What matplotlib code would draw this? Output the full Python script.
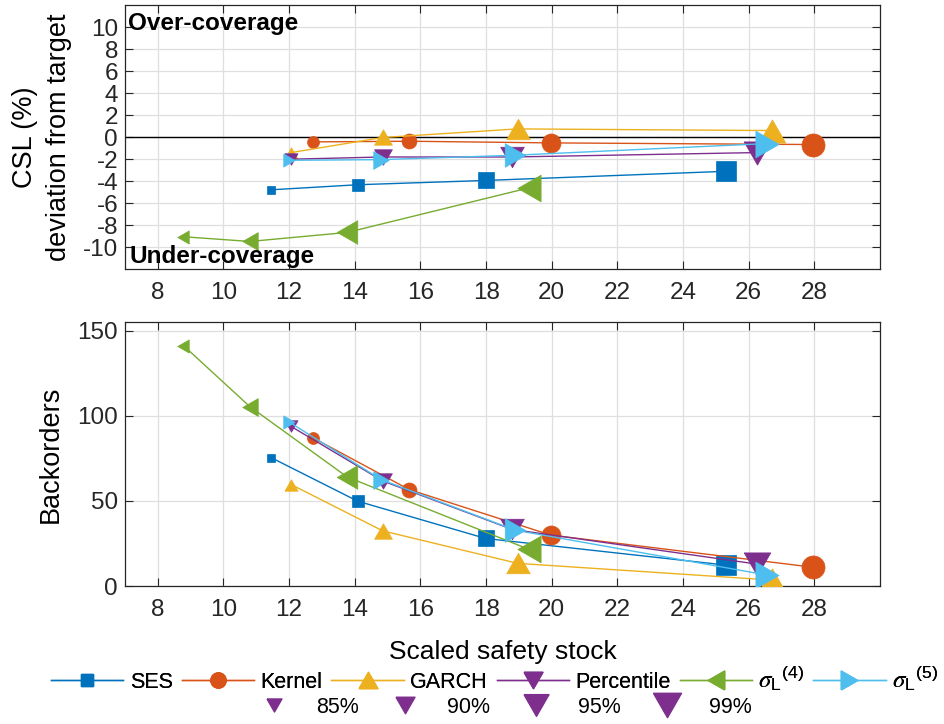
import matplotlib
matplotlib.use('Agg')
import matplotlib.pyplot as plt
from matplotlib.lines import Line2D

plt.rcParams['font.family'] = ['Liberation Sans', 'DejaVu Sans']
plt.rcParams['mathtext.fontset'] = 'custom'
plt.rcParams['mathtext.rm'] = 'Liberation Sans'
plt.rcParams['mathtext.it'] = 'STIXGeneral:italic'
plt.rcParams['axes.unicode_minus'] = False

# scaled safety stock per method (85%, 90%, 95%, 99%)
x_ses = [11.45, 14.09, 17.99, 25.3]
x_kernel = [12.72, 15.66, 19.97, 27.97]
x_garch = [12.06, 14.85, 18.96, 26.7]
x_perc = [12.06, 14.85, 18.8, 26.24]
x_sig4 = [8.78, 10.8, 13.77, 19.31]
x_sig5 = [12.0, 14.8, 18.88, 26.57]

# CSL deviation from target (%)
csl_ses = [-4.78, -4.32, -3.93, -3.1]
csl_kernel = [-0.43, -0.37, -0.52, -0.67]
csl_garch = [-1.4, -0.03, 0.75, 0.6]
csl_perc = [-2.0, -1.8, -1.8, -1.4]
csl_sig4 = [-9.04, -9.47, -8.65, -4.6]
csl_sig5 = [-2.1, -2.04, -1.64, -0.58]

# backorders
bo_ses = [75.4, 49.8, 27.9, 12.3]
bo_kernel = [87.1, 56.6, 29.9, 11.0]
bo_garch = [59.6, 32.4, 13.3, 3.5]
bo_perc = [93.7, 61.7, 33.2, 12.9]
bo_sig4 = [141.2, 105.4, 64.0, 21.5]
bo_sig5 = [96.3, 62.5, 32.8, 6.4]

levels = ['85%', '90%', '95%', '99%']
names = ['SES', 'Kernel', 'GARCH', 'Percentile',
         r'$\sigma_{\mathrm{L}}{}^{\mathrm{(4)}}$', r'$\sigma_{\mathrm{L}}{}^{\mathrm{(5)}}$']
colors = ['#0072BD', '#D95319', '#EDB120', '#7E2F8E', '#77AC30', '#4DBEEE']

# MATLAB-like triangles: a bit wider than tall
h = 0.87
tri_up = [(-1, -h), (1, -h), (0, h), (-1, -h)]
tri_down = [(-1, h), (1, h), (0, -h), (-1, h)]
tri_left = [(h, -1), (h, 1), (-h, 0), (h, -1)]
tri_right = [(-h, -1), (-h, 1), (h, 0), (-h, -1)]
markers = ['s', 'o', tri_up, tri_down, tri_left, tri_right]

sz_square = [6.3, 9.1, 11.5, 13.9]
sz_circle = [8.6, 10.8, 13.7, 16.6]
sz_tri = [9.5, 12.8, 17.0, 19.2]
sizes = [sz_square, sz_circle, sz_tri, sz_tri, sz_tri, sz_tri]

xs = [x_ses, x_kernel, x_garch, x_perc, x_sig4, x_sig5]
csl = [csl_ses, csl_kernel, csl_garch, csl_perc, csl_sig4, csl_sig5]
bo = [bo_ses, bo_kernel, bo_garch, bo_perc, bo_sig4, bo_sig5]

fig = plt.figure(figsize=(9.44, 7.24), dpi=100)
ax1 = fig.add_axes([0.1324, 0.628, 0.7998, 0.3651])
ax2 = fig.add_axes([0.1324, 0.1906, 0.7998, 0.3646])

tick_col = '#262626'


def style_axes(ax):
    ax.set_xlim(7, 30)
    ax.set_xticks(range(8, 29, 2))
    ax.grid(True, color='#dfdfdf', linewidth=0.9)
    ax.set_axisbelow(True)
    ax.tick_params(direction='in', top=True, right=True, length=5.5, width=0.8,
                   colors=tick_col, labelsize=17.5, labelcolor='#262626')
    ax.tick_params(axis='x', pad=9)
    ax.tick_params(axis='y', pad=5)
    for sp in ax.spines.values():
        sp.set_color(tick_col)
        sp.set_linewidth(0.9)


def draw(ax, ys):
    for x, y, c, m, s in zip(xs, ys, colors, markers, sizes):
        ax.plot(x, y, color=c, linewidth=1.0, zorder=3)
        for xi, yi, si in zip(x, y, s):
            ax.plot(xi, yi, marker=m, markersize=si, color=c,
                    markeredgecolor=c, markeredgewidth=0.5, linestyle='none', zorder=3)


# top: CSL deviation
ax1.axhline(0, color='black', linewidth=1.0, zorder=2)
draw(ax1, csl)
style_axes(ax1)
ax1.set_ylim(-12, 12)
ax1.set_yticks(range(-10, 11, 2))
ax1.set_ylabel('CSL (%)\ndeviation from target', fontsize=19.5, labelpad=8,
               linespacing=1.4)
ax1.text(0.004, 0.975, 'Over-coverage', transform=ax1.transAxes, fontsize=17.5,
         fontweight='bold', va='top', ha='left')
ax1.text(0.006, 0.005, 'Under-coverage', transform=ax1.transAxes, fontsize=17.5,
         fontweight='bold', va='bottom', ha='left')

# bottom: backorders
draw(ax2, bo)
style_axes(ax2)
ax2.set_ylim(0, 155)
ax2.set_yticks([0, 50, 100, 150])
ax2.set_ylabel('Backorders', fontsize=19.5, labelpad=10)
ax2.set_xlabel('Scaled safety stock', fontsize=19, labelpad=14)

# legend row 1: methods
leg_sizes = [9.0, 11.0, 13.5, 13.5, 13.5, 13.5]
handles1 = [Line2D([0], [0], color=c, marker=m, markersize=s, markeredgecolor=c,
                   linewidth=1.0)
            for c, m, s in zip(colors, markers, leg_sizes)]
leg1 = fig.legend(handles1, names, loc='center', bbox_to_anchor=(0.524, 0.063),
                  ncol=6, frameon=False, fontsize=15.5, handlelength=3.35,
                  handletextpad=0.3, columnspacing=0.42, borderaxespad=0)
for t in leg1.get_texts()[4:]:
    t.set_fontsize(18)
fig.add_artist(leg1)

# legend row 2: service levels
leg2_sizes = [10.8, 13.7, 18.0, 20.2]
handles2 = [Line2D([0], [0], color=colors[3], marker=tri_down, markersize=s,
                   markeredgecolor=colors[3], linestyle='none')
            for s in leg2_sizes]
fig.legend(handles2, levels, loc='center', bbox_to_anchor=(0.532, 0.023),
           ncol=4, frameon=False, fontsize=15.5, handlelength=2.0,
           handletextpad=0.95, columnspacing=1.15, borderaxespad=0)

fig.savefig('out.png', dpi=100)
